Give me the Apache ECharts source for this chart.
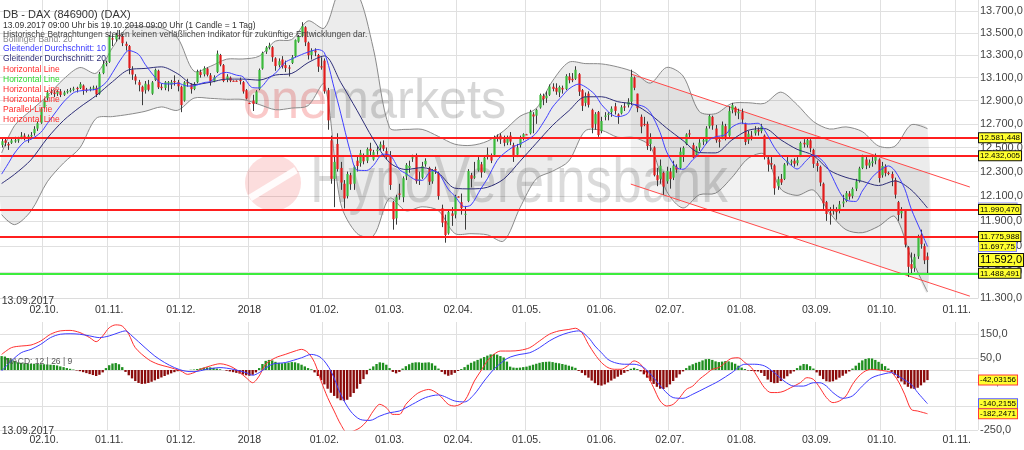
<!DOCTYPE html>
<html><head><meta charset="utf-8">
<script src="https://cdn.jsdelivr.net/npm/echarts@6/dist/echarts.min.js"></script>
<style>html,body{margin:0;padding:0;background:#fff}#c{width:1024px;height:450px}</style>
</head><body><div id="c"></div>
<script>
// ---------- DATA ----------
const categoryCount = 300;
const skipDates = ['03.10.2017','31.10.2017','30.03.2018'];
const tickDates = ['02.10.2017','01.11.2017','01.12.2017','01.01.2018','01.02.2018','01.03.2018','02.04.2018','01.05.2018','01.06.2018','02.07.2018','01.08.2018','03.09.2018','01.10.2018','01.11.2018'];
const tickTexts = ['02.10.','01.11.','01.12.','2018','01.02.','01.03.','02.04.','01.05.','01.06.','02.07.','01.08.','03.09.','01.10.','01.11.'];
const firstDateLabel = '13.09.2017';
const priceTicks = [11300,11500,11700,11900,12100,12300,12500,12700,12900,13100,13300,13500,13700];
const macdTicks = [-250,-150,-50,50,150];

// [open, close, low, high]
const candles = [
[12520,12553,12500,12580],[12560,12540,12510,12575],[12530,12518,12480,12545],[12540,12559,12530,12580],[12560,12561,12540,12590],
[12560,12569,12540,12590],[12590,12600,12570,12630],[12600,12592,12560,12620],[12590,12595,12540,12610],[12600,12605,12580,12630],
[12620,12657,12600,12680],[12660,12705,12640,12720],[12710,12829,12700,12840],
[12840,12902,12830,12920],[12920,12970,12900,12990],[12980,12968,12950,13000],[12970,12956,12930,12990],[12960,12976,12940,12990],
[12980,12949,12930,13000],[12950,12970,12940,12985],[12980,12982,12960,13000],[12985,12991,12970,13010],[13000,13004,12980,13020],
[13010,13003,12970,13020],[13010,13043,13000,13060],[13030,12990,12950,13040],[12995,12991,12970,13010],[13000,13003,12980,13020],
[13010,13013,12990,13030],[13010,12953,12930,13030],[12960,13133,12950,13150],[13140,13217,13130,13250],[13220,13229,13200,13250],
[13240,13465,13230,13480],[13450,13440,13380,13480],[13440,13479,13420,13500],[13480,13468,13440,13525],[13470,13406,13380,13490],
[13400,13382,13340,13420],[13380,13183,13130,13390],[13170,13127,13080,13200],[13110,13074,13040,13130],[13060,13034,12980,13080],
[13020,12977,12860,13030],[12990,13047,12960,13070],[13040,12994,12980,13080],[12960,13058,12950,13070],[13080,13168,13070,13180],
[13160,13015,13000,13170],[13020,13008,12990,13050],[13010,13060,12990,13070],[13050,13060,12980,13070],[13040,13060,13000,13080],
[13070,13061,13030,13120],[13060,13024,12980,13080],
[13020,12861,12800,13030],[12900,13058,12890,13070],[13060,13049,13020,13090],[13040,12999,12960,13050],[13000,13045,12990,13060],
[13060,13153,13050,13170],[13150,13123,13100,13170],[13130,13183,13110,13200],[13180,13125,13110,13190],[13120,13068,13030,13140],
[13070,13104,13060,13120],[13150,13312,13140,13340],[13300,13215,13200,13310],[13210,13070,13060,13220],[13080,13110,13060,13130],
[13100,13073,13060,13110],[13073,13073,13070,13076],[13073,13073,13070,13076],[13080,13070,13040,13100],[13060,12979,12960,13070],
[12990,12918,12910,13000],
[12880,12880,12878,12882],[12900,12871,12810,12950],[12880,12978,12870,12990],[13000,13167,12990,13180],[13180,13319,13170,13330],
[13330,13367,13310,13380],[13370,13385,13350,13410],[13370,13281,13240,13380],[13270,13202,13160,13280],[13210,13245,13190,13270],
[13260,13200,13180,13290],[13210,13184,13150,13250],[13190,13183,13110,13210],[13230,13281,13220,13300],[13290,13434,13280,13440],
[13420,13463,13410,13480],[13470,13559,13460,13596],[13550,13414,13380,13560],[13410,13298,13260,13420],[13300,13340,13260,13360],
[13340,13324,13290,13360],[13300,13197,13150,13310],[13200,13189,13170,13280],
[13250,12980,12960,13270],[12990,12730,12650,13010],[12560,12240,12200,12600],[12240,12380,12010,12420],[12530,12320,12300,12620],
[12330,12210,12150,12380],[12200,12080,12000,12230],[12100,12280,12080,12300],[12270,12196,12150,12290],[12200,12339,12150,12350],
[12390,12346,12300,12430],[12370,12452,12340,12480],[12430,12385,12360,12450],[12390,12487,12370,12500],[12490,12470,12430,12540],
[12400,12461,12390,12480],[12470,12483,12440,12510],[12500,12527,12480,12550],[12520,12490,12470,12560],[12470,12435,12400,12500],
[12430,12190,12150,12470],[12050,11913,11830,12060],[11920,12090,11870,12110],[12120,12113,12070,12200],[12090,12245,12050,12260],
[12260,12355,12230,12370],[12330,12346,12290,12390],[12410,12418,12380,12440],[12430,12221,12200,12450],[12230,12237,12190,12300],
[12250,12345,12240,12380],[12360,12389,12340,12410],[12330,12217,12190,12340],[12220,12307,12200,12320],[12320,12309,12280,12340],
[12290,12100,12070,12300],[12000,11886,11850,12030],[11900,11787,11727,11950],[11800,11970,11790,11990],[11960,11940,11860,12010],
[11950,12096,11920,12110],
[12096,12096,12093,12099],[12050,12002,11950,12120],[11950,11957,11830,12020],[12060,12305,12050,12320],[12270,12241,12170,12290],
[12250,12261,12240,12380],[12310,12397,12300,12420],[12360,12293,12250,12380],[12300,12415,12290,12430],[12430,12442,12400,12500],
[12420,12391,12370,12450],[12440,12585,12430,12600],[12590,12590,12550,12610],[12600,12567,12530,12620],[12570,12540,12510,12600],
[12540,12572,12520,12600],[12600,12550,12520,12630],[12520,12422,12380,12540],[12440,12500,12420,12530],[12520,12580,12500,12600],
[12590,12612,12560,12620],
[12612,12612,12609,12615],[12620,12802,12610,12820],[12780,12763,12620,12800],[12770,12820,12700,12830],[12840,12948,12830,12960],
[12940,12912,12860,12960],[12920,12943,12880,12980],[12950,13022,12940,13040],[13020,13001,12980,13050],[13010,12977,12950,13050],
[12970,13018,12930,13030],[13010,12996,12960,13030],[13000,13114,12990,13130],[13110,13077,13050,13140],[13090,13077,13060,13140],
[13090,13169,13080,13200],[13130,12977,12940,13140],[12990,12855,12810,13000],[12880,12938,12850,12970],[12960,12863,12840,12980],
[12820,12666,12620,12830],[12700,12783,12650,12800],[12800,12605,12590,12810],
[12640,12724,12620,12760],[12760,12771,12730,12800],[12780,12787,12730,12800],[12800,12830,12760,12850],[12850,12811,12780,12880],
[12780,12767,12700,12790],[12790,12842,12780,12860],[12850,12842,12810,12880],[12860,12890,12840,12920],[12890,13107,12860,13170],
[13100,13011,12990,13110],[12960,12834,12800,12960],[12760,12677,12620,12780],[12700,12695,12680,12760],[12700,12512,12480,12720],
[12530,12580,12470,12620],[12500,12270,12260,12510],[12270,12228,12180,12330],[12240,12348,12200,12400],[12290,12177,12110,12300],
[12220,12306,12200,12340],
[12300,12238,12160,12330],[12250,12349,12230,12390],[12340,12317,12290,12360],[12330,12465,12320,12500],[12440,12496,12380,12510],
[12530,12610,12520,12620],[12620,12609,12580,12650],[12520,12417,12410,12540],[12440,12492,12420,12510],[12500,12541,12470,12570],
[12550,12561,12520,12580],[12550,12661,12530,12680],[12680,12766,12660,12780],[12760,12686,12650,12770],[12660,12561,12540,12690],
[12560,12549,12500,12590],[12580,12689,12570,12720],[12680,12579,12560,12700],[12600,12809,12590,12850],[12820,12860,12790,12880],
[12840,12799,12770,12850],[12790,12805,12740,12830],
[12800,12737,12700,12830],[12700,12546,12520,12710],[12560,12616,12530,12640],[12600,12598,12560,12640],[12620,12648,12600,12680],
[12650,12634,12600,12670],[12640,12676,12620,12700],[12600,12424,12400,12610],[12400,12358,12300,12430],[12370,12358,12320,12420],
[12350,12163,12110,12360],[12180,12237,12150,12260],[12240,12210,12190,12280],[12240,12358,12230,12370],[12370,12384,12350,12420],
[12380,12385,12350,12400],[12390,12365,12340,12410],[12370,12394,12350,12420],[12430,12538,12420,12550],[12540,12527,12500,12570],
[12520,12562,12500,12580],[12560,12494,12460,12570],[12480,12364,12330,12490],
[12370,12346,12300,12390],[12340,12210,12180,12350],[12200,12040,11990,12210],[12050,11955,11900,12060],[11960,11960,11870,12010],
[11980,11986,11950,12030],[11990,11970,11910,12010],[11980,12032,11960,12060],[12040,12055,12010,12110],[12060,12124,12050,12140],
[12120,12096,12070,12140],[12100,12157,12080,12170],[12160,12219,12140,12240],[12220,12326,12210,12340],[12330,12431,12320,12440],
[12400,12350,12320,12420],[12350,12374,12330,12400],[12370,12385,12340,12420],[12390,12435,12360,12450],[12400,12247,12210,12410],
[12270,12346,12250,12380],[12340,12287,12260,12360],[12290,12287,12270,12300],[12280,12244,12180,12300],[12230,12111,12080,12250],
[12050,11947,11900,12060],[11960,11977,11920,12010],[11980,11712,11690,11990],[11690,11539,11460,11700],[11560,11524,11480,11650],
[11530,11614,11500,11640],[11620,11777,11600,11790],[11790,11715,11680,11830],[11700,11589,11560,11720],[11620,11592,11490,11650]
];

// [candle index, value]
const ma10 = [[0,12279],[2,12365],[4,12454],[7,12549],[9,12569],[12,12627],[14,12702],[17,12816],[19,12888],[22,12967],[24,12984],[27,12992],[29,12997],[32,13057],[34,13143],[37,13280],[39,13340],[42,13306],[44,13218],[47,13105],[49,13050],[52,13044],[54,13051],[57,13026],[59,13028],[62,13056],[64,13066],[67,13132],[69,13146],[72,13122],[74,13108],[77,13012],[79,13010],[82,13095],[84,13139],[87,13235],[89,13265],[92,13304],[94,13326],[97,13349],[99,13320],[102,13009],[104,12791],[107,12460],[109,12312],[112,12309],[114,12350],[117,12444],[119,12438],[122,12317],[124,12284],[127,12232],[129,12228],[132,12308],[134,12289],[137,12155],[139,12100],[142,12014],[144,12028],[147,12159],[149,12241],[152,12392],[154,12448],[157,12507],[159,12530],[162,12576],[164,12623],[167,12749],[169,12844],[172,12941],[174,13001],[177,13043],[179,13020],[182,12952],[184,12866],[187,12782],[189,12761],[192,12787],[194,12866],[197,12848],[199,12799],[202,12626],[204,12463],[207,12333],[209,12319],[212,12398],[214,12453],[217,12561],[219,12590],[222,12608],[224,12672],[227,12707],[229,12699],[232,12705],[234,12648],[237,12502],[239,12431],[242,12356],[244,12321],[247,12396],[249,12437],[252,12384],[254,12300],[257,12136],[259,12068],[262,12056],[264,12140],[267,12252],[269,12302],[272,12347],[274,12307],[277,12160],[279,11997],[282,11816],[284,11697.75]];
const ma20 = [[0,12202],[4,12278],[9,12397],[14,12578],[19,12729],[24,12843],[29,12943],[34,13064],[39,13169],[44,13181],[49,13195],[54,13134],[59,13039],[64,13059],[69,13087],[74,13087],[79,13078],[84,13123],[89,13137],[94,13232],[99,13292],[104,13059],[109,12816],[114,12570],[119,12375],[124,12317],[129,12333],[134,12287],[139,12164],[144,12158],[149,12171],[154,12238],[159,12385],[164,12536],[169,12687],[174,12812],[179,12932],[184,12933],[189,12890],[194,12866],[199,12780],[204,12664],[209,12559],[214,12458],[219,12455],[224,12563],[229,12645],[234,12660],[239,12565],[244,12485],[249,12434],[254,12310],[259,12252],[264,12220],[269,12185],[274,12223],[279,12150],[284,12003.21]];
const bbUpper = [[0,12454],[4,12686],[9,12815],[14,12940],[19,13087],[24,13189],[29,13139],[34,13366],[39,13557],[44,13555],[49,13545],[54,13452],[59,13157],[64,13199],[69,13263],[74,13265],[79,13290],[84,13425],[89,13439],[94,13608],[99,13542],[104,13905],[109,13874],[114,13360],[119,12667],[124,12653],[129,12653],[134,12593],[139,12528],[144,12518],[149,12553],[154,12640],[159,12765],[164,12832],[169,13071],[174,13236],[179,13224],[184,13221],[189,13194],[194,13148],[199,13052],[204,13190],[209,13115],[214,12806],[219,12787],[224,12875],[229,12881],[234,12876],[239,12973],[244,12865],[249,12720],[254,12656],[259,12674],[264,12634],[269,12513],[274,12511],[279,12692],[284,12659]];
const bbLower = [[0,11950],[4,11870],[9,11979],[14,12216],[19,12371],[24,12497],[29,12747],[34,12762],[39,12781],[44,12807],[49,12845],[54,12816],[59,12921],[64,12919],[69,12911],[74,12909],[79,12866],[84,12821],[89,12835],[94,12856],[99,13042],[104,12040],[109,11800],[114,11780],[119,12083],[124,11981],[129,12013],[134,11981],[139,11800],[144,11798],[149,11789],[154,11740],[159,12005],[164,12240],[169,12303],[174,12388],[179,12640],[184,12645],[189,12586],[194,12584],[199,12508],[204,12138],[209,12003],[214,12110],[219,12123],[224,12251],[229,12409],[234,12444],[239,12157],[244,12105],[249,12148],[254,11964],[259,11830],[264,11806],[269,11857],[274,11935],[279,11608],[284,11347]];

const hLineValues = [12581.448, 12432.005, 11990.470, 11775.988, 11488.491];
const channelUpper = [[193,13132],[297,12173]];
const channelLower = [[193,12197],[297,11314]];
const lastPrice = 11592.0;

const macdLine = [[0,65],[3,93],[6,100],[9,104],[12,121],[15,149],[18,163],[21,165],[24,156],[27,135],[29,118],[31,142],[33,176],[35,188],[37,183],[39,149],[41,93],[45,44],[48,24],[51,13],[55,-4],[57,-18],[59,-11],[61,3],[64,17],[67,26],[71,10],[75,-32],[77,-53],[79,-25],[81,24],[84,51],[87,65],[90,79],[92,86],[94,72],[96,31],[98,-46],[100,-115],[102,-171],[104,-226],[106,-261],[108,-254],[110,-240],[112,-213],[114,-171],[116,-143],[118,-157],[120,-185],[122,-185],[124,-143],[126,-115],[128,-94],[131,-81],[134,-101],[137,-143],[139,-150],[142,-129],[145,-46],[147,-4],[149,38],[151,65],[153,79],[156,79],[159,82],[162,93],[165,121],[168,149],[171,163],[174,169],[176,174],[178,156],[180,107],[182,65],[184,31],[186,10],[188,3],[190,3],[192,17],[194,38],[196,24],[198,-18],[200,-74],[202,-129],[204,-150],[206,-143],[208,-115],[210,-81],[212,-67],[214,-39],[216,-18],[218,3],[220,10],[222,31],[224,49],[226,51],[228,31],[230,10],[232,-32],[234,-74],[236,-94],[238,-94],[240,-88],[242,-74],[245,-53],[247,-32],[249,-39],[251,-74],[253,-115],[255,-136],[257,-129],[259,-108],[261,-60],[263,-25],[265,-4],[267,3],[269,0],[271,-4],[273,-11],[275,-46],[277,-101],[279,-164],[281,-171],[284,-182.2471]];
const signalLine = [[0,-4],[3,38],[6,72],[9,86],[12,107],[15,135],[18,149],[21,151],[24,149],[27,142],[30,135],[33,142],[36,156],[38,163],[40,142],[44,93],[47,58],[50,31],[53,10],[56,-4],[59,-7],[63,3],[67,10],[71,3],[75,-11],[77,-22],[79,-11],[83,24],[87,31],[92,51],[95,65],[98,51],[101,-4],[104,-101],[107,-171],[110,-206],[113,-210],[116,-192],[119,-178],[122,-171],[126,-143],[130,-115],[134,-104],[139,-129],[142,-133],[145,-101],[148,-46],[151,3],[154,38],[156,54],[159,65],[162,72],[165,93],[168,121],[171,142],[174,156],[177,163],[180,135],[182,100],[184,72],[186,44],[188,31],[191,24],[194,24],[197,10],[200,-32],[203,-81],[206,-115],[209,-118],[212,-101],[216,-74],[220,-46],[224,-11],[228,24],[231,24],[234,17],[237,-11],[240,-46],[243,-67],[246,-67],[249,-53],[251,-53],[253,-67],[255,-94],[258,-118],[261,-108],[264,-67],[267,-32],[271,-15],[273,-11],[275,-25],[279,-60],[281,-94],[284,-140.2155]];
const macdHist = [
58,56,50,44,38,32,30,28,27,26,26,25,24,24,23,22,21,19,15,12,8,5,2,
-2,-5,-9,-13,-17,-21,-25,-20,-10,
8,20,27,29,24,12,
-8,-22,-35,-46,-54,-58,-57,-54,-49,-43,-37,-31,-25,-19,-14,-9,-5,-2,
-1,0,1,2,
4,7,10,11,11,9,6,
3,0,
-3,-6,-9,-12,-15,-19,-22,-24,-20,-10,
8,25,38,42,40,34,30,28,29,31,33,32,28,22,15,8,3,
-10,-25,-42,-60,-78,-95,-108,-118,-126,-128,-124,-112,-96,-78,-58,-38,-18,
5,15,25,32,30,22,8,
-8,-14,-8,
6,16,24,30,32,32,30,31,32,28,18,6,
-8,-18,-24,-20,-12,-4,
4,12,22,30,36,42,48,54,60,65,67,64,58,52,35,14,10,9,10,12,14,18,22,26,30,33,34,35,33,30,28,25,22,18,14,9,
-4,-12,-22,-32,-44,-55,-63,-65,-60,-52,-44,-36,-28,-20,-12,-5,
5,9,4,
-6,-18,-32,-46,-58,-70,-78,-79,-72,-60,-46,-32,-18,-6,
8,18,24,30,34,40,45,46,42,36,33,35,37,36,32,26,18,10,4,
-2,-4,-5,-6,
-12,-25,-40,-50,-55,-54,-46,-36,-26,-15,-6,
8,18,25,24,16,6,
-10,-24,-38,-47,-49,-47,-40,-32,-24,-15,-6,
6,18,30,40,46,49,48,42,34,26,16,6,
-8,-20,-34,-48,-60,-70,-77,-79,-74,-64,-52,-42.03156
];

const legendTexts = ['Bollinger Band: 20','Gleitender Durchschnitt: 10','Gleitender Durchschnitt: 20','Horizontal Line','Horizontal Line','Horizontal Line','Horizontal Line','Parallel-Linie','Horizontal Line'];
const titleText = 'DB - DAX (846900) (DAX)';
const subText1 = '13.09.2017 09:00 Uhr bis 19.10.2018 09:00 Uhr (1 Candle = 1 Tag)';
const subText2 = 'Historische Betrachtungen stellen keinen verläßlichen Indikator für zukünftige Entwicklungen dar.';
const macdLegend = 'MACD: 12 | 26 | 9';

// ---------- STYLE / BUILD ----------
const FONT = '"Liberation Sans", Arial, Helvetica, sans-serif';
const legendColors = ['#8a8a8a','#3b3bff','#2e2e78','#ff2a2a','#2ed82e','#ff2a2a','#ff2a2a','#ff2a2a','#ff2a2a'];
const hLineColors = ['#ff1f1f','#ff1f1f','#ff1f1f','#ff1f1f','#3ded3d'];

function pad(n){return n<10?'0'+n:''+n;}
const dates = [];
(function(){ const d = new Date(Date.UTC(2017,8,13));
  while (dates.length < categoryCount) {
    const wd = d.getUTCDay();
    const s = pad(d.getUTCDate())+'.'+pad(d.getUTCMonth()+1)+'.'+d.getUTCFullYear();
    if (wd!==0 && wd!==6 && skipDates.indexOf(s)<0) dates.push(s);
    d.setUTCDate(d.getUTCDate()+1);
  }})();
const tickMap = {}; tickDates.forEach((d,i)=>{tickMap[d]=tickTexts[i];});

function de(v, dec){
  const neg = v < 0; const s = Math.abs(v).toFixed(dec); const p = s.split('.');
  const ip = p[0].replace(/\B(?=(\d{3})+(?!\d))/g,'.');
  return (neg?'-':'') + ip + (p.length>1 ? ','+p[1] : '');
}

function mainX(gi, margin){
  return {type:'category', gridIndex:gi, data:dates, boundaryGap:true, position:'bottom',
    axisLine:{show:true, lineStyle:{color:'#dcdcdc'}}, axisTick:{show:false},
    axisLabel:{interval:(i,v)=>tickMap[v]!==undefined, formatter:(v)=>tickMap[v]||'', color:'#333', fontSize:10.5, margin:margin, fontFamily:FONT},
    splitLine:{show:true, interval:(i,v)=>tickMap[v]!==undefined, lineStyle:{color:'#e0e0e0', width:1}}};
}
function firstX(gi, margin){
  return {type:'category', gridIndex:gi, data:dates, boundaryGap:true, position:'bottom',
    axisLine:{show:false}, axisTick:{show:false}, splitLine:{show:false},
    axisLabel:{interval:(i)=>i===0, formatter:(v,i)=> i===0?firstDateLabel:'', align:'left', color:'#333', fontSize:10.5, margin:margin, fontFamily:FONT}};
}

function renderCandle(params, api){
  const i = api.value(0), o = api.value(1), c = api.value(2), l = api.value(3), h = api.value(4);
  const pO = api.coord([i,o]), pC = api.coord([i,c]), pL = api.coord([i,l]), pH = api.coord([i,h]);
  const band = api.coord([i+1,o])[0] - pO[0];
  const bw = Math.max(1.8, band*0.68);
  const x = Math.round(pO[0]) + 0.5;
  const top = Math.min(pO[1], pC[1]);
  let hh = Math.abs(pO[1]-pC[1]); if (hh < 1.2) hh = 1.2;
  const up = c >= o && Math.abs(c-o) > 0.5;
  return {type:'group', children:[
    {type:'line', shape:{x1:x, y1:pH[1], x2:x, y2:pL[1]}, style:{stroke:'#3a3a3a', lineWidth:1}},
    {type:'rect', shape:{x:x-bw/2, y:top, width:bw, height:hh}, style:{fill: up?'#3cba3c':'#e21c1c'}}
  ]};
}
function renderBB(params, api){
  const up = bbUpper.map(p=>api.coord(p));
  const lo = bbLower.map(p=>api.coord(p));
  return {type:'group', children:[
    {type:'polygon', shape:{points: up.concat(lo.slice().reverse()), smooth:0.3}, style:{fill:'rgba(0,0,0,0.075)'}},
    {type:'polyline', shape:{points: up, smooth:0.3}, style:{stroke:'#8a8a8a', lineWidth:1, fill:'none'}},
    {type:'polyline', shape:{points: lo, smooth:0.3}, style:{stroke:'#8a8a8a', lineWidth:1, fill:'none'}}
  ]};
}
function renderChannel(params, api){
  const u0 = api.coord(channelUpper[0]), u1 = api.coord(channelUpper[1]);
  const l0 = api.coord(channelLower[0]), l1 = api.coord(channelLower[1]);
  const last = candles.length-1;
  const xEnd = api.coord([last, candles[last][1]])[0] + 1.5;
  const yAt = (a,b,x)=> a[1] + (b[1]-a[1])*(x-a[0])/(b[0]-a[0]);
  return {type:'polygon', shape:{points:[u0,[xEnd,yAt(u0,u1,xEnd)],[xEnd,yAt(l0,l1,xEnd)],l0]}, style:{fill:'rgba(0,0,0,0.05)'}};
}

function boxLabel(fontSize, border, extra){
  return Object.assign({show:true, position:'end', distance:1, color:'#000', fontSize:fontSize, lineHeight:fontSize+1,
    fontFamily:FONT, backgroundColor:'#ffff2e', borderColor:border, borderWidth:1, padding:[0,1,0,1]}, extra||{});
}
function labelSeries(xi, yi, value, text, fontSize, border, z){
  return {type:'line', xAxisIndex:xi, yAxisIndex:yi, data:[], z:z, silent:true,
    markLine:{silent:true, symbol:['none','none'], lineStyle:{color:'rgba(0,0,0,0)', width:0},
      data:[{yAxis:value, label:boxLabel(fontSize, border, {formatter:text})}]}};
}

const graphics = [];
// watermark
graphics.push({type:'text', x:243, y:103, scaleX:0.9, z:1, silent:true, style:{text:'{a|one}{b|markets}', font:'56px '+FONT, verticalAlign:'middle', textVerticalAlign:'middle',
  rich:{a:{fill:'rgba(235,30,30,0.24)', font:'56px '+FONT}, b:{fill:'rgba(0,0,0,0.16)', font:'56px '+FONT}}}});
graphics.push({type:'circle', z:1, silent:true, shape:{cx:273, cy:183, r:28}, style:{fill:'rgba(235,30,30,0.15)'}});
graphics.push({type:'line', z:1, silent:true, shape:{x1:250, y1:198, x2:296, y2:170}, style:{stroke:'rgba(255,255,255,0.9)', lineWidth:7}});
graphics.push({type:'text', x:310, y:184, scaleX:0.82, z:1, silent:true, style:{text:'HypoVereinsbank', font:'65px '+FONT, fill:'rgba(0,0,0,0.14)', verticalAlign:'middle', textVerticalAlign:'middle'}});
// header texts
graphics.push({type:'text', x:3, y:15, z:20, silent:true, style:{text:titleText, font:'11px '+FONT, fill:'#333', verticalAlign:'middle', textVerticalAlign:'middle'}});
graphics.push({type:'text', x:3, y:39.5, z:20, silent:true, style:{text:legendTexts[0], font:'8.5px '+FONT, fill:legendColors[0], verticalAlign:'middle', textVerticalAlign:'middle'}});
graphics.push({type:'text', x:3, y:26, z:20, silent:true, style:{text:subText1, font:'8.5px '+FONT, fill:'#333', verticalAlign:'middle', textVerticalAlign:'middle'}});
graphics.push({type:'text', x:3, y:34.5, z:20, silent:true, style:{text:subText2, font:'8.5px '+FONT, fill:'#444', verticalAlign:'middle', textVerticalAlign:'middle'}});
for (let k=1;k<legendTexts.length;k++){
  graphics.push({type:'text', x:3, y:49+(k-1)*10.1, z:20, silent:true, style:{text:legendTexts[k], font:'8.5px '+FONT, fill:legendColors[k], verticalAlign:'middle', textVerticalAlign:'middle'}});
}
graphics.push({type:'text', x:5, y:361.5, z:20, silent:true, style:{text:macdLegend, font:'8.5px '+FONT, fill:'#555', verticalAlign:'middle', textVerticalAlign:'middle'}});

const option = {
  animation:false, backgroundColor:'#ffffff', textStyle:{fontFamily:FONT},
  grid:[{left:0, top:0, width:978, height:298, outerBoundsMode:'none'},{left:0, top:322, width:978, height:108, outerBoundsMode:'none'}],
  xAxis:[mainX(0,7), firstX(0,-2), mainX(1,5), firstX(1,-4)],
  yAxis:[
    {type:'log', logBase:10, gridIndex:0, position:'right', min:11300, max:13800,
      axisLine:{show:false}, axisTick:{show:false, customValues:priceTicks},
      axisLabel:{customValues:priceTicks, formatter:v=>de(v,1), color:'#444', fontSize:11, margin:2, fontFamily:FONT},
      splitLine:{show:true, lineStyle:{color:'#e0e0e0', width:1}}},
    {type:'value', gridIndex:1, position:'right', min:-250, max:200,
      axisLine:{show:false}, axisTick:{show:false, customValues:macdTicks},
      axisLabel:{customValues:macdTicks, formatter:v=>de(v,1), color:'#444', fontSize:11, margin:2, fontFamily:FONT},
      splitLine:{show:true, lineStyle:{color:'#e0e0e0', width:1}}}
  ],
  graphic:graphics,
  series:[
    {type:'custom', name:'bb', xAxisIndex:0, yAxisIndex:0, z:2, clip:true, silent:true, data:[[0,12500]], encode:{x:0,y:1}, renderItem:renderBB},
    {type:'custom', name:'channelFill', xAxisIndex:0, yAxisIndex:0, z:2, clip:true, silent:true, data:[[0,12500]], encode:{x:0,y:1}, renderItem:renderChannel},
    {type:'line', name:'hlines', xAxisIndex:0, yAxisIndex:0, data:[], z:3, silent:true,
      markLine:{silent:true, symbol:['none','none'], label:{show:false},
        data:hLineValues.map((v,k)=>({yAxis:v, lineStyle:{color:hLineColors[k], width:2, type:'solid'}}))}},
    {type:'line', name:'chU', xAxisIndex:0, yAxisIndex:0, data:channelUpper, showSymbol:false, silent:true, z:3, lineStyle:{color:'#ff4a4a', width:1}},
    {type:'line', name:'chL', xAxisIndex:0, yAxisIndex:0, data:channelLower, showSymbol:false, silent:true, z:3, lineStyle:{color:'#ff4a4a', width:1}},
    {type:'custom', name:'candles', xAxisIndex:0, yAxisIndex:0, z:4, clip:true, silent:true,
      data:candles.map((c,i)=>[i,c[0],c[1],c[2],c[3]]), encode:{x:0, y:[1,2,3,4]}, renderItem:renderCandle},
    {type:'line', name:'MA20', xAxisIndex:0, yAxisIndex:0, data:ma20, smooth:0.3, showSymbol:false, silent:true, z:5, lineStyle:{color:'#2e2e78', width:1}},
    {type:'line', name:'MA10', xAxisIndex:0, yAxisIndex:0, data:ma10, smooth:0.3, showSymbol:false, silent:true, z:5, lineStyle:{color:'#4040ff', width:1}},
    labelSeries(0,0, ma20[ma20.length-1][1], de(ma20[ma20.length-1][1],2), 8, '#8c8cff', 6),
    labelSeries(0,0, ma10[ma10.length-1][1], de(ma10[ma10.length-1][1],2), 8, '#8c8cff', 6),
    {type:'line', name:'hlabels', xAxisIndex:0, yAxisIndex:0, data:[], z:7, silent:true,
      markLine:{silent:true, symbol:['none','none'], lineStyle:{color:'rgba(0,0,0,0)', width:0},
        data:hLineValues.map(v=>({yAxis:v, label:boxLabel(8,'#111',{formatter:de(v,3)})}))}},
    labelSeries(0,0, lastPrice, de(lastPrice,1), 11, '#111', 8),
    // MACD panel
    {type:'bar', name:'hist', xAxisIndex:2, yAxisIndex:1, data:macdHist, barWidth:'72%', silent:true, z:2,
      itemStyle:{color:(p)=> p.value>=0 ? '#1f8f1f' : '#8b0b0b'}},
    {type:'line', name:'MACD', xAxisIndex:2, yAxisIndex:1, data:macdLine, smooth:0.3, showSymbol:false, silent:true, z:3, lineStyle:{color:'#ff3030', width:1}},
    {type:'line', name:'Signal', xAxisIndex:2, yAxisIndex:1, data:signalLine, smooth:0.3, showSymbol:false, silent:true, z:3, lineStyle:{color:'#3c3cff', width:1}},
    labelSeries(2,1, macdHist[macdHist.length-1], de(macdHist[macdHist.length-1],5), 8, '#ff3b3b', 6),
    labelSeries(2,1, signalLine[signalLine.length-1][1], de(signalLine[signalLine.length-1][1],4), 8, '#5a5aff', 6),
    labelSeries(2,1, macdLine[macdLine.length-1][1], de(macdLine[macdLine.length-1][1],4), 8, '#ff3b3b', 7)
  ]
};
const chart = echarts.init(document.getElementById('c'), null, {renderer:'canvas'});
chart.setOption(option);
</script></body></html>
